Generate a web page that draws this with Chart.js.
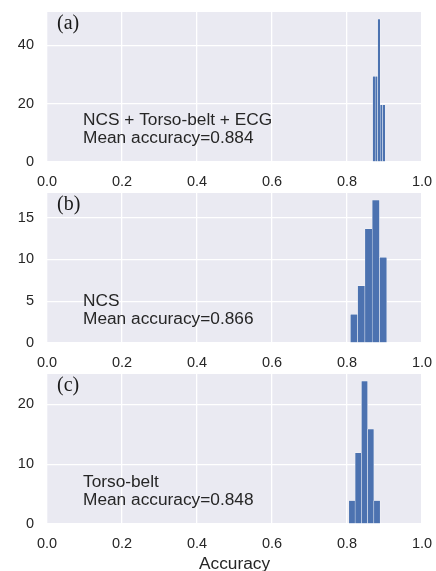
<!DOCTYPE html>
<html>
<head>
<meta charset="utf-8">
<script src="https://cdn.jsdelivr.net/npm/chart.js@4.4.1/dist/chart.umd.min.js"></script>
<style>
  html, body { margin: 0; padding: 0; background: #fff; }
  #wrap { position: relative; width: 436px; height: 571px; overflow: hidden; }
  #wrap canvas { position: absolute; left: 0; }
</style>
</head>
<body>
<div id="wrap">
  <canvas id="histA" width="436" height="190" style="top:0px"></canvas>
  <canvas id="histB" width="436" height="190" style="top:181px"></canvas>
  <canvas id="histC" width="436" height="209" style="top:362px"></canvas>
</div>
<script>
// bin centres (accuracy) and density heights
const binsA = [0.8718, 0.8785, 0.8852, 0.8919, 0.8986];
const densA = [29.4, 29.4, 49.0, 19.6, 19.6];
const binsB = [0.8187, 0.8381, 0.8575, 0.8769, 0.8963];
const densB = [3.42, 6.84, 13.68, 17.1, 10.26];
const binsC = [0.8133, 0.8300, 0.8467, 0.8633, 0.8800];
const densC = [3.9, 11.9, 23.9, 15.9, 3.9];

const xTicks = [0, 0.2, 0.4, 0.6, 0.8, 1.0];
const yTicksA = [0, 20, 40];
const yTicksB = [0, 5, 10, 15];
const yTicksC = [0, 10, 20];

const panelLabels = ['(a)', '(b)', '(c)'];
const setups = ['NCS + Torso-belt + ECG', 'NCS', 'Torso-belt'];
const meanAcc = [0.884, 0.866, 0.848];

const SANS = '"Liberation Sans", Arial, sans-serif';
const TXT = '#262626';

// grey plot background (seaborn darkgrid look)
const bgPlugin = {
    id: 'bg',
    beforeDraw(chart) {
        const a = chart.chartArea;
        chart.ctx.save();
        chart.ctx.fillStyle = '#EAEAF2';
        chart.ctx.fillRect(a.left, a.top, a.right - a.left, a.bottom - a.top);
        chart.ctx.restore();
    }
};

// panel letter + setup text inside the plot
const notePlugin = {
    id: 'notes',
    afterDraw(chart, args, opts) {
        const a = chart.chartArea;
        const c = chart.ctx;
        c.save();
        c.textAlign = 'left';
        c.textBaseline = 'alphabetic';
        c.fillStyle = '#1a1a1a';
        c.font = '20px "Liberation Serif", "Times New Roman", serif';
        c.fillText(opts.label, a.left + 10, a.top + 17);
        c.font = '17.3px ' + SANS;
        c.fillStyle = TXT;
        c.fillText(opts.line1, a.left + 36, a.top + 112.5);
        c.fillText(opts.line2, a.left + 36, a.top + 130.5);
        c.restore();
    }
};

function makePanel(id, i, bins, dens, yTicks, last) {
    const ctx = document.getElementById(id);
    const canvasH = ctx.height;

    new Chart(ctx, {
        type: 'bar',
        data: {
            datasets: [{
                data: bins.map((b, k) => ({ x: b, y: dens[k] })),
                backgroundColor: '#4C72B0',
                borderColor: '#ffffff',
                borderWidth: 0.5,
                barPercentage: 1.0,
                categoryPercentage: 1.0
            }]
        },
        options: {
            responsive: false,
            animation: false,
            events: [],
            layout: { padding: { top: 12, right: 14, left: 0, bottom: 0 } },
            plugins: {
                legend: { display: false },
                tooltip: { enabled: false },
                notes: {
                    label: panelLabels[i],
                    line1: setups[i],
                    line2: 'Mean accuracy=' + meanAcc[i].toFixed(3)
                }
            },
            scales: {
                x: {
                    type: 'linear',
                    min: 0,
                    max: 1,
                    offset: false,
                    afterBuildTicks: s => { s.ticks = xTicks.map(v => ({ value: v })); },
                    afterFit: s => {
                        s.height = canvasH - 162;
                        s.paddingLeft = 0;
                        s.paddingRight = 0;
                    },
                    grid: { color: '#ffffff', lineWidth: 1.3, drawTicks: false, offset: false },
                    border: { display: false },
                    ticks: {
                        padding: 11,
                        color: TXT,
                        font: { family: SANS, size: 14.5 },
                        callback: v => Number(v).toFixed(1)
                    },
                    title: {
                        display: last,
                        text: 'Accuracy',
                        color: TXT,
                        padding: { top: 0, bottom: -4 },
                        font: { family: SANS, size: 17.3 }
                    }
                },
                y: {
                    min: 0,
                    max: Math.max(...dens) * 1.05,
                    afterBuildTicks: s => { s.ticks = yTicks.map(v => ({ value: v })); },
                    afterFit: s => {
                        s.width = 47;
                        s.paddingTop = 0;
                        s.paddingBottom = 0;
                    },
                    grid: { color: '#ffffff', lineWidth: 1.3, drawTicks: false },
                    border: { display: false },
                    ticks: {
                        padding: 13,
                        color: TXT,
                        font: { family: SANS, size: 14.5 }
                    }
                }
            }
        },
        plugins: [bgPlugin, notePlugin]
    });
}

document.addEventListener('DOMContentLoaded', () => {
    makePanel('histA', 0, binsA, densA, yTicksA, false);
    makePanel('histB', 1, binsB, densB, yTicksB, false);
    makePanel('histC', 2, binsC, densC, yTicksC, true);
});
</script>
</body>
</html>
